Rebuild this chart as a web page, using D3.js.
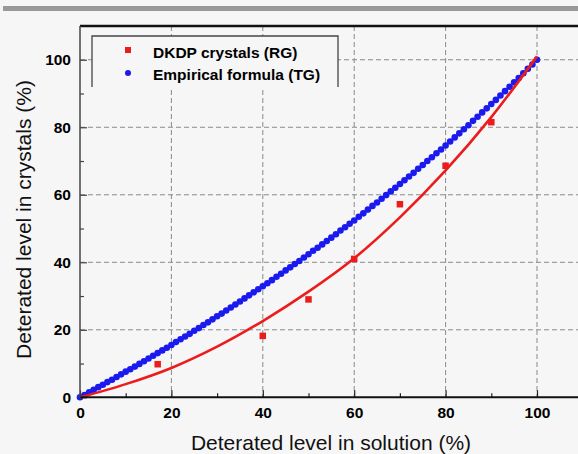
<!DOCTYPE html>
<html>
<head>
<meta charset="utf-8">
<script src="https://cdn.jsdelivr.net/npm/d3@7"></script>
<style>
  html, body { margin: 0; padding: 0; background: #f6f6f6; }
  svg { display: block; }
  text { font-family: Arial, "Liberation Sans", sans-serif; }
  #topbar { position: absolute; left: 3px; top: 6px; width: 575px; height: 4.5px; background: #999; z-index: 5; }
</style>
</head>
<body>
<div id="topbar"></div>
<svg id="chart" width="578" height="454"></svg>
<script>
// ---------------- data ----------------
const xMajorTicks = [0, 20, 40, 60, 80, 100];
const xMinorTicks = [10, 30, 50, 70, 90];
const yMajorTicks = [0, 20, 40, 60, 80, 100];
const yMinorTicks = [10, 30, 50, 70, 90];

// DKDP crystals (RG) measured points
const rgX = [17, 40, 50, 60, 70, 80, 90];
const rgY = [9.8, 18.2, 29.0, 41.0, 57.2, 68.6, 81.5];

// red fitted curve
const fitX = [0, 10, 20, 30, 40, 50, 60, 70, 80, 90, 100];
const fitY = [0, 3.9, 8.7, 15.0, 22.6, 31.3, 41.2, 53.3, 67.2, 83.0, 101.0];

// Empirical formula (TG) points
const tgX = [0,1,2,3,4,5,6,7,8,9,10,11,12,13,14,15,16,17,18,19,20,
  21,22,23,24,25,26,27,28,29,30,31,32,33,34,35,36,37,38,39,40,
  41,42,43,44,45,46,47,48,49,50,51,52,53,54,55,56,57,58,59,60,
  61,62,63,64,65,66,67,68,69,70,71,72,73,74,75,76,77,78,79,80,
  81,82,83,84,85,86,87,88,89,90,91,92,93,94,95,96,97,98,99,100];
const tgY = [0,0.7,1.5,2.2,3.0,3.7,4.5,5.2,6.0,6.8,7.6,
  8.3,9.1,9.9,10.7,11.5,12.3,13.1,13.9,14.7,15.5,
  16.4,17.2,18.0,18.8,19.7,20.5,21.4,22.2,23.1,24.0,
  24.8,25.7,26.6,27.5,28.4,29.3,30.2,31.1,32.0,32.9,
  33.8,34.7,35.7,36.6,37.6,38.5,39.5,40.4,41.4,42.4,
  43.4,44.3,45.3,46.3,47.3,48.3,49.4,50.4,51.4,52.4,
  53.5,54.5,55.6,56.7,57.7,58.8,59.9,61.0,62.1,63.2,
  64.3,65.4,66.5,67.7,68.8,70.0,71.1,72.3,73.4,74.6,
  75.8,77.0,78.2,79.4,80.6,81.9,83.1,84.4,85.6,86.9,
  88.1,89.4,90.7,92.0,93.3,94.6,96.0,97.3,98.6,100];

const legendLabels = ["DKDP crystals (RG)", "Empirical formula (TG)"];
const xTitle = "Deterated level in solution (%)";
const yTitle = "Deterated level in crystals (%)";

// ---------------- layout ----------------
const svg = d3.select("#chart");
const W = 578, H = 454;
const mLeft = 80, mTop = 26, mBottom = 397.3;
const xScale = d3.scaleLinear().domain([0, 110]).range([mLeft, mLeft + 110 * 4.57]);
const yScale = d3.scaleLinear().domain([0, 110]).range([mBottom, mTop]);

const RED = "#ec1c1c", BLUE = "#1a1aee";

svg.append("rect").attr("width", W).attr("height", H).attr("fill", "#f6f6f6");

// top gray bar
svg.append("rect").attr("x", 3).attr("y", 6).attr("width", W - 3).attr("height", 4.5)
  .style("fill", "#999999");

// grid
const grid = svg.append("g").attr("stroke", "#8a8a8a").attr("stroke-width", 1)
  .attr("stroke-dasharray", "5,3");
grid.selectAll("line.gx").data(xMajorTicks.filter(d => d > 0)).join("line")
  .attr("class", "gx")
  .attr("x1", d => xScale(d)).attr("x2", d => xScale(d))
  .attr("y1", mTop).attr("y2", mBottom);
grid.selectAll("line.gy").data(yMajorTicks.filter(d => d > 0)).join("line")
  .attr("class", "gy")
  .attr("y1", d => yScale(d)).attr("y2", d => yScale(d))
  .attr("x1", mLeft).attr("x2", W);

// empirical formula points (blue)
svg.append("g").selectAll("circle").data(tgX).join("circle")
  .attr("cx", d => xScale(d)).attr("cy", (d, i) => yScale(tgY[i]))
  .attr("r", 3.3).attr("fill", BLUE);

// red fit curve
const line = d3.line().x(d => xScale(d[0])).y(d => yScale(d[1])).curve(d3.curveCatmullRom);
svg.append("path").datum(fitX.map((d, i) => [d, fitY[i]]))
  .attr("d", line).attr("fill", "none").attr("stroke", RED).attr("stroke-width", 2.6);

// red squares
const sq = 6.5;
svg.append("g").selectAll("rect").data(rgX).join("rect")
  .attr("x", d => xScale(d) - sq / 2).attr("y", (d, i) => yScale(rgY[i]) - sq / 2)
  .attr("width", sq).attr("height", sq).attr("fill", RED);

// axes
const tickFont = g => g.selectAll("text")
  .attr("font-size", 15.5).attr("font-weight", "bold").attr("fill", "#000")
  .attr("font-family", "Arial, 'Liberation Sans', sans-serif");

const xAxis = svg.append("g").attr("transform", `translate(0,${mBottom})`)
  .call(d3.axisBottom(xScale).tickValues(xMajorTicks).tickSizeInner(-7).tickSizeOuter(0).tickPadding(10));
xAxis.select(".domain").remove();
xAxis.selectAll("line").attr("stroke", "#222").attr("stroke-width", 1.2);
tickFont(xAxis);
const xMinor = svg.append("g").attr("transform", `translate(0,${mBottom})`)
  .call(d3.axisBottom(xScale).tickValues(xMinorTicks).tickSizeInner(-4).tickSizeOuter(0).tickFormat(""));
xMinor.select(".domain").remove();
xMinor.selectAll("line").attr("stroke", "#222").attr("stroke-width", 1.2);

const yAxis = svg.append("g").attr("transform", `translate(${mLeft},0)`)
  .call(d3.axisLeft(yScale).tickValues(yMajorTicks).tickSizeInner(-7).tickSizeOuter(0).tickPadding(9));
yAxis.select(".domain").remove();
yAxis.selectAll("line").attr("stroke", "#444").attr("stroke-width", 1.2);
tickFont(yAxis);
const yMinor = svg.append("g").attr("transform", `translate(${mLeft},0)`)
  .call(d3.axisLeft(yScale).tickValues(yMinorTicks).tickSizeInner(-4).tickSizeOuter(0).tickFormat(""));
yMinor.select(".domain").remove();
yMinor.selectAll("line").attr("stroke", "#444").attr("stroke-width", 1.2);

// frame lines
svg.append("line").attr("x1", mLeft).attr("x2", W).attr("y1", mTop).attr("y2", mTop)
  .attr("stroke", "#111").attr("stroke-width", 2.5);
svg.append("line").attr("x1", mLeft).attr("x2", W).attr("y1", mBottom).attr("y2", mBottom)
  .attr("stroke", "#111").attr("stroke-width", 2);
svg.append("line").attr("x1", mLeft).attr("x2", mLeft).attr("y1", mTop).attr("y2", mBottom)
  .attr("stroke", "#444").attr("stroke-width", 1.5);

// legend
const lg = svg.append("g");
lg.append("rect").attr("x", 92).attr("y", 36).attr("width", 246).attr("height", 51)
  .attr("fill", "#f6f6f6");
lg.append("path").attr("d", "M92,87 L92,36 L338,36 L338,87")
  .attr("fill", "none").attr("stroke", "#444").attr("stroke-width", 1.3);
lg.append("rect").attr("x", 128 - 3).attr("y", 50 - 3).attr("width", 6).attr("height", 6).attr("fill", RED);
lg.append("circle").attr("cx", 128).attr("cy", 73).attr("r", 3).attr("fill", BLUE);
lg.selectAll("text").data(legendLabels).join("text")
  .attr("x", 153).attr("y", (d, i) => 57.5 + i * 22.7)
  .attr("font-size", 15.5).attr("font-weight", "bold").attr("fill", "#000")
  .text(d => d);

// axis titles
svg.append("text").attr("x", 331).attr("y", 450).attr("text-anchor", "middle")
  .attr("font-size", 21).attr("fill", "#111").text(xTitle);
svg.append("text").attr("transform", "translate(30.5,219.5) rotate(-90)")
  .attr("text-anchor", "middle").attr("font-size", 21).attr("fill", "#111").text(yTitle);
</script>
</body>
</html>
